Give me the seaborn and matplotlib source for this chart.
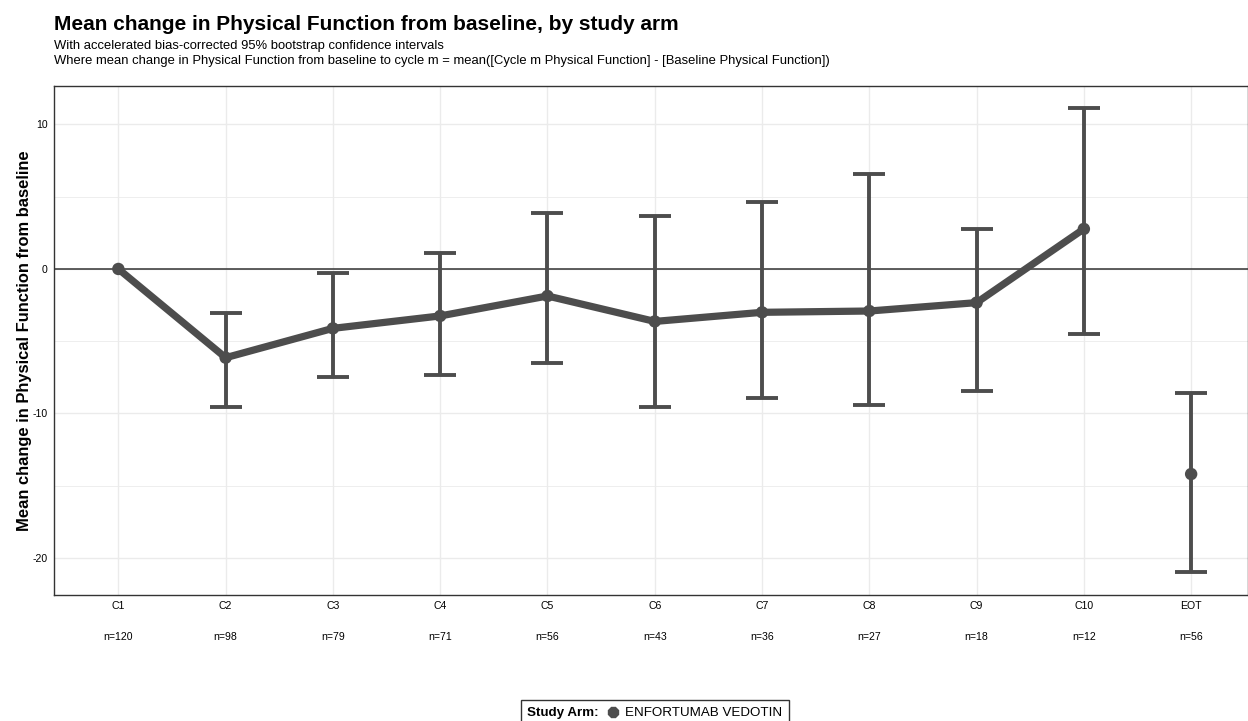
import matplotlib
matplotlib.use("Agg")
import matplotlib.pyplot as plt
import seaborn as sns
import pandas as pd
import numpy as np
from matplotlib.lines import Line2D
from matplotlib.ticker import FixedLocator
from matplotlib.offsetbox import HPacker

# ---- data ----
cycles = ["C1", "C2", "C3", "C4", "C5", "C6", "C7", "C8", "C9", "C10", "EOT"]
mean_change = [0.0, -6.14, -4.11, -3.25, -1.87, -3.63, -3.00, -2.91, -2.33, 2.77, -14.19]
ci_lower = [np.nan, -9.55, -7.49, -7.36, -6.52, -9.55, -8.93, -9.39, -8.44, -4.48, -20.97]
ci_upper = [np.nan, -3.07, -0.30, 1.08, 3.86, 3.67, 4.62, 6.57, 2.77, 11.12, -8.56]
n_counts = [120, 98, 79, 71, 56, 43, 36, 27, 18, 12, 56]
arm_name = "ENFORTUMAB VEDOTIN"

df = pd.DataFrame({
    "cycle": cycles,
    "pos": np.arange(len(cycles)),
    "mean": mean_change,
    "lower": ci_lower,
    "upper": ci_upper,
    "n": n_counts,
    "arm": arm_name,
})

grey = "#4D4D4D"
sns.set_theme(style="whitegrid")
plt.rcParams["font.family"] = ["Liberation Sans", "DejaVu Sans"]
plt.rcParams["text.color"] = "black"
plt.rcParams["axes.labelcolor"] = "black"
plt.rcParams["axes.unicode_minus"] = False

fig = plt.figure(figsize=(12.48, 7.21), dpi=100)
ax = fig.add_axes([54 / 1248, (721 - 595) / 721, (1248 - 54) / 1248, (595 - 86) / 721])

# line (cycles only, EOT not connected)
line_df = df[df["cycle"] != "EOT"]
sns.lineplot(data=line_df, x="pos", y="mean", color=grey, linewidth=5.2, ax=ax,
             legend=False, zorder=3)
sns.scatterplot(data=df, x="pos", y="mean", color=grey, s=80, edgecolor="none",
                ax=ax, legend=False, zorder=4)

ci_df = df.dropna(subset=["lower", "upper"])
ax.errorbar(ci_df["pos"], ci_df["mean"],
            yerr=[ci_df["mean"] - ci_df["lower"], ci_df["upper"] - ci_df["mean"]],
            fmt="none", ecolor=grey, elinewidth=2.8, capsize=11.5, capthick=2.8,
            zorder=3)

ax.axhline(0, color="#333333", linewidth=1.1, zorder=2)

ax.set_xlim(-0.6, 10.53)
ax.set_ylim(-22.56, 12.66)
ax.xaxis.set_major_locator(FixedLocator(df["pos"]))
ax.set_xticklabels(df["cycle"])
ax.yaxis.set_major_locator(FixedLocator([-20, -10, 0, 10]))
ax.yaxis.set_minor_locator(FixedLocator([-15, -5, 5]))

ax.grid(which="major", color="#EBEBEB", linewidth=1.0)
ax.grid(which="minor", axis="y", color="#EBEBEB", linewidth=0.6)
ax.set_axisbelow(True)

for side in ["left", "bottom", "top", "right"]:
    ax.spines[side].set_color("#333333")
    ax.spines[side].set_linewidth(1.0)

ax.tick_params(axis="both", which="major", length=2.5, width=0.8, color="#333333",
               labelsize=7.6, labelcolor="black", pad=2)
ax.tick_params(axis="y", which="minor", length=0)

ax.set_xlabel("")
ax.set_ylabel("Mean change in Physical Function from baseline", fontsize=11.85,
              fontweight="bold")
ax.yaxis.set_label_coords(-0.0188, 0.5)

# n labels under the axis
for p, n in zip(df["pos"], df["n"]):
    ax.annotate(f"n={n}", xy=(p, 0), xycoords=("data", "axes fraction"),
                xytext=(0, -30), textcoords="offset points", ha="center",
                va="center", fontsize=7.6)

# titles
fig.text(54 / 1248, 1 - 25 / 721, "Mean change in Physical Function from baseline, by study arm",
         fontsize=15, fontweight="bold", ha="left", va="center")
fig.text(54 / 1248, 1 - 46 / 721, "With accelerated bias-corrected 95% bootstrap confidence intervals",
         fontsize=9.4, ha="left", va="center")
fig.text(54 / 1248, 1 - 61 / 721,
         "Where mean change in Physical Function from baseline to cycle m = mean([Cycle m Physical Function] - [Baseline Physical Function])",
         fontsize=9.4, ha="left", va="center")

# legend (title placed to the left of the key, as in ggplot's bottom legend)
handles = [Line2D([], [], color=grey, marker="8", markersize=8.5, linestyle="none")]
leg = fig.legend(handles, [arm_name], title="Study Arm:", loc="upper center",
                 bbox_to_anchor=(655 / 1248, 1 - 700 / 721),
                 frameon=True, fancybox=False, fontsize=9.6, title_fontsize=9.6,
                 handlelength=0.8, handletextpad=0.55, borderpad=0.4, borderaxespad=0)
leg.get_title().set_fontweight("bold")
leg.get_frame().set_edgecolor("black")
leg.get_frame().set_linewidth(1.0)
old_box = leg._legend_box
leg._legend_box = HPacker(pad=5, sep=6, align="baseline",
                          children=old_box.get_children())
leg._legend_box.set_figure(fig)
leg._legend_box.set_offset(leg._findoffset)

fig.savefig("out.png", dpi=100)
